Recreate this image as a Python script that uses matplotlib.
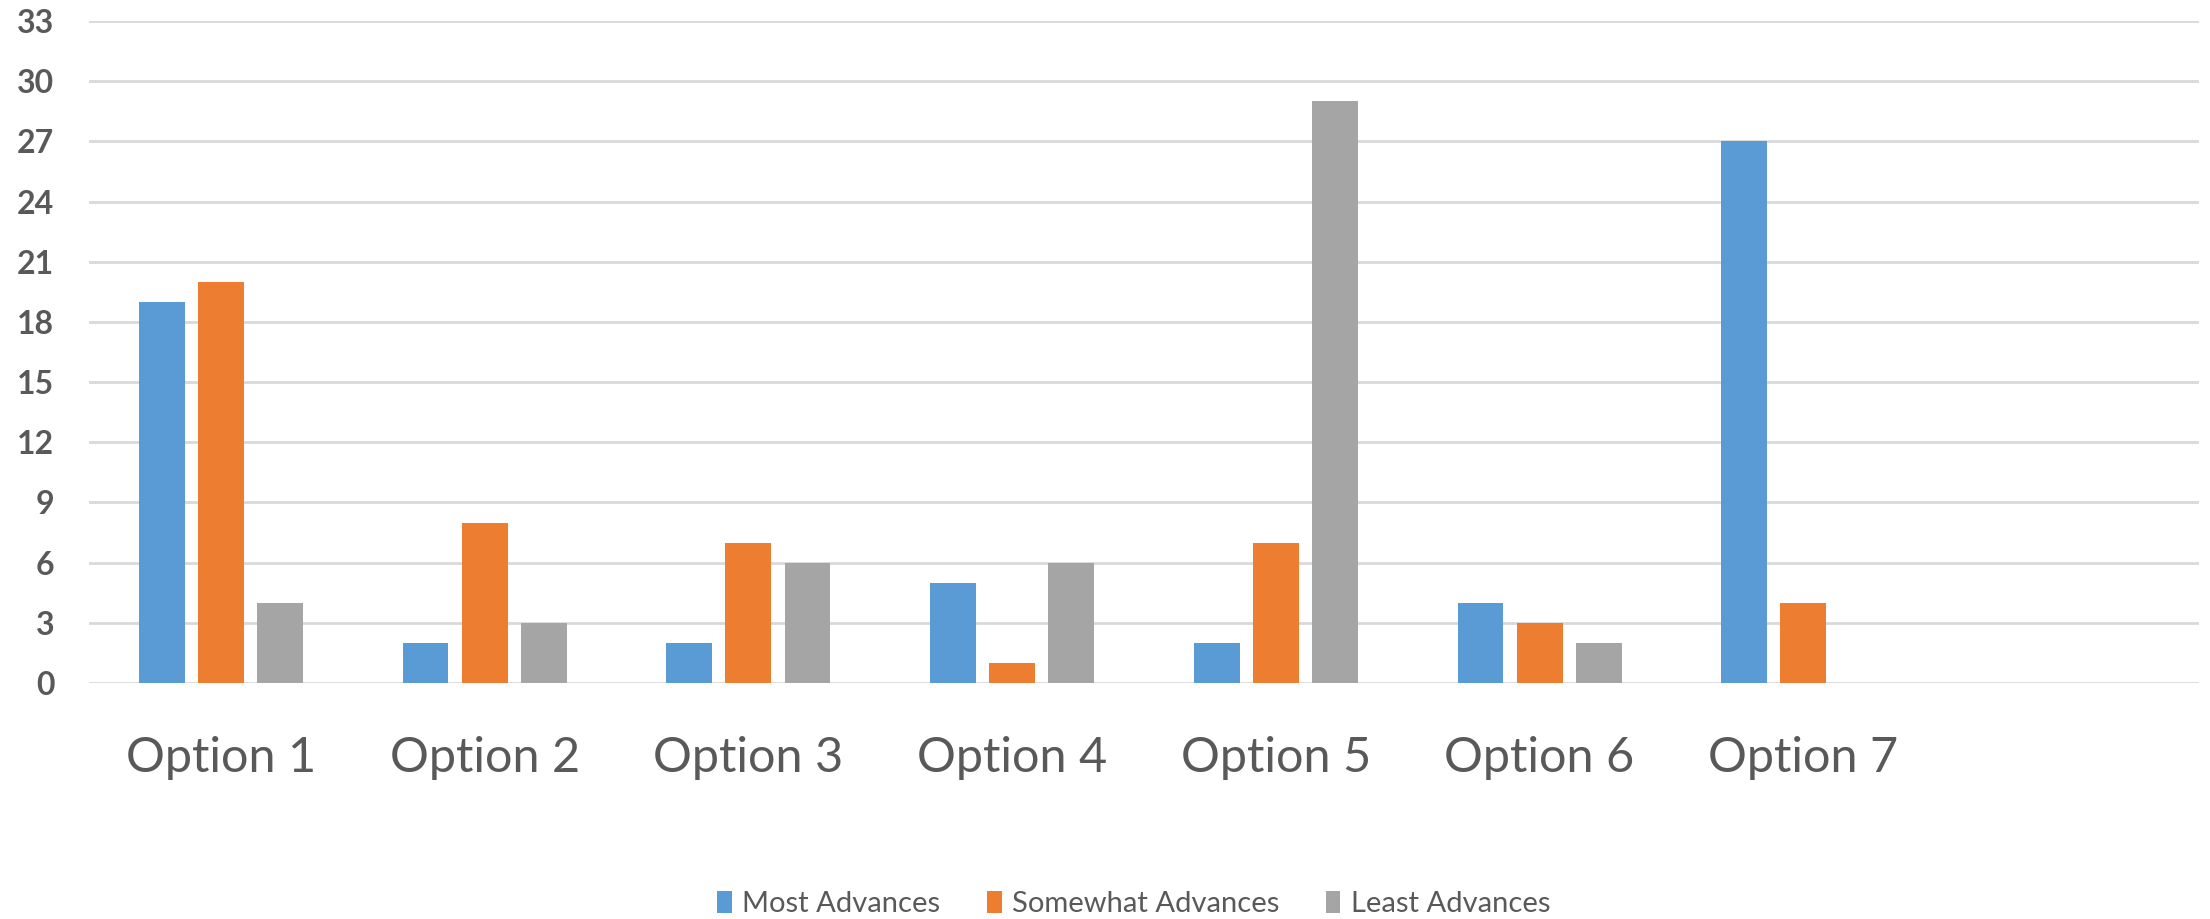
import matplotlib
matplotlib.use("Agg")
import matplotlib.pyplot as plt
import numpy as np

categories = ["Option 1", "Option 2", "Option 3", "Option 4", "Option 5", "Option 6", "Option 7"]
most = [19, 2, 2, 5, 2, 4, 27]
somewhat = [20, 8, 7, 1, 7, 3, 4]
least = [4, 3, 6, 6, 29, 2, 0]
series_names = ["Most Advances", "Somewhat Advances", "Least Advances"]
colors = ["#5B9BD5", "#ED7D31", "#A5A5A5"]
yticks = list(range(0, 34, 3))

plt.rcParams['font.family'] = ['Lato', 'DejaVu Sans']
text_color = "#595959"

fig = plt.figure(figsize=(22.10, 9.19), dpi=100)
ax = fig.add_axes([89 / 2210, 1 - 683 / 919, 2110 / 2210, (683 - 21) / 919])

x = np.arange(len(categories))
bw = 0.174
step = 0.224
for i, (vals, name, c) in enumerate(zip([most, somewhat, least], series_names, colors)):
    ax.bar(x + (i - 1) * step, vals, width=bw, color=c, label=name, zorder=3)

ax.set_xlim(-0.5, 7.5)
ax.set_ylim(0, 33)
ax.set_yticks(yticks)
ax.set_yticklabels([str(t) for t in yticks], fontsize=23, fontweight='bold', color=text_color)
ax.set_xticks(x)
ax.set_xticklabels(categories, fontsize=35, color=text_color)
ax.tick_params(axis='y', length=0, pad=25)
ax.tick_params(axis='x', length=0, pad=38)
ax.grid(axis='y', color="#D9D9D9", linewidth=2, zorder=0)
for s in ax.spines.values():
    s.set_visible(False)

handles, labels = ax.get_legend_handles_labels()
fig.legend(handles, labels, loc='center', bbox_to_anchor=(0.513, 0.016), ncol=3, frameon=False,
           fontsize=21, labelcolor=text_color, handlelength=0.5, handleheight=0.8,
           handletextpad=0.35, columnspacing=1.6)

fig.savefig("out.png", dpi=100)
